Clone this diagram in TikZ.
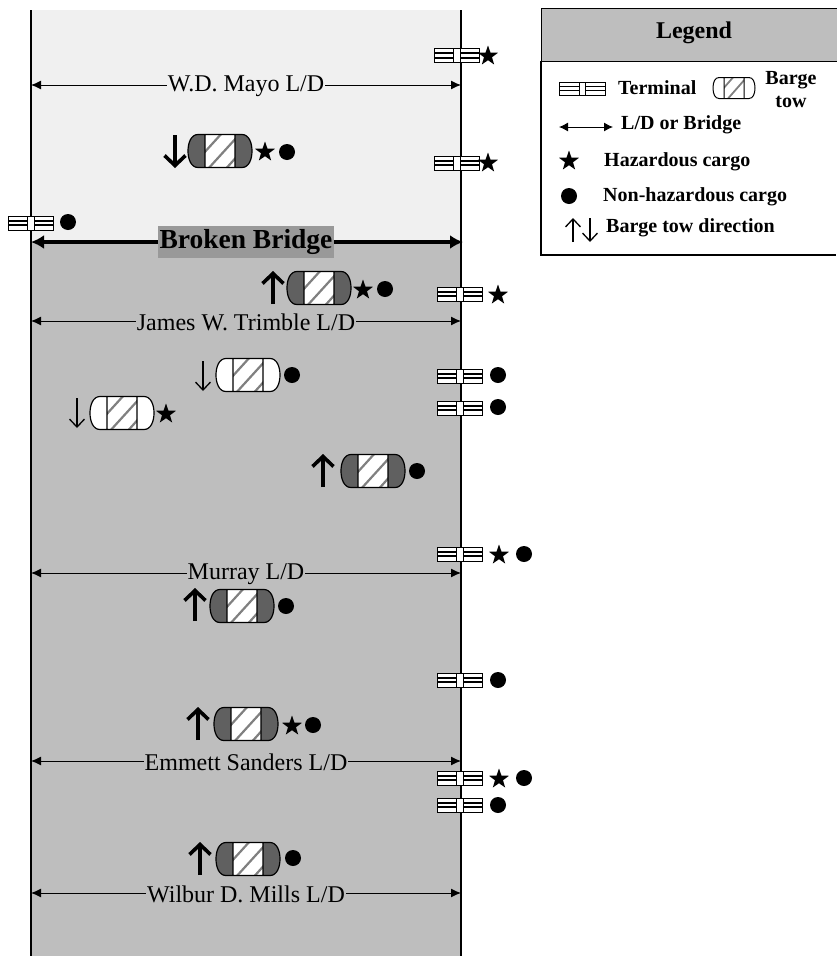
\documentclass[tikz,border=0pt]{standalone}
\usepackage{fontspec}
\setmainfont{Liberation Serif}
\usetikzlibrary{arrows.meta,shapes.geometric}
\definecolor{lightzone}{HTML}{F0F0F0}
\definecolor{darkzone}{HTML}{BEBEBE}
\definecolor{towend}{HTML}{606060}
\definecolor{bridgebg}{HTML}{999999}
\tikzset{
  x=1pt,y=-1pt,
  bank/.style={line width=1.1pt,black},
  span/.style={line width=1pt,{Latex[length=10pt,width=9pt]}-{Latex[length=10pt,width=9pt]}},
  bridgespan/.style={line width=3.4pt,{Latex[length=13pt,width=14pt]}-{Latex[length=13pt,width=14pt]}},
  spanlabel/.style={font=\fontsize{24}{24}\selectfont,inner sep=1pt},
  haz/.style={star,star points=5,star point ratio=2.5,fill=black,inner sep=0pt,minimum size=21pt,draw=none},
  nonhaz/.style={circle,fill=black,inner sep=0pt,minimum size=16pt,draw=none},
  boldup/.style={line width=3.6pt,-{Straight Barb[length=10pt,width=21pt,line width=3.6pt]}},
  thinarrow/.style={line width=1.3pt,-{Straight Barb[length=8pt,width=15pt,line width=1.3pt]}},
  legendtext/.style={font=\fontsize{20}{23}\selectfont\bfseries,inner sep=0pt},
  pics/terminal/.style={code={
    \draw[line width=.9pt,fill=white] (-22.5,-7) rectangle (22.5,7);
    \draw[line width=2pt] (-22.5,-2.4) -- (22.5,-2.4) (-22.5,2.4) -- (22.5,2.4);
    \draw[line width=.9pt,fill=white] (-3.5,-7) rectangle (3.5,7);
  }},
  pics/barge/.style={code={
    \fill[#1] (-15,-16.5) -- (-22,-16.5) .. controls (-29,-16.5) and (-32,-8) .. (-32,0)
       .. controls (-32,8) and (-29,16.5) .. (-22,16.5) -- (-15,16.5) -- cycle;
    \fill[#1] (15,-16.5) -- (22,-16.5) .. controls (29,-16.5) and (32,-8) .. (32,0)
       .. controls (32,8) and (29,16.5) .. (22,16.5) -- (15,16.5) -- cycle;
    \fill[white] (-15,-16.5) rectangle (15,16.5);
    \begin{scope}
      \clip (-15,-16.5) rectangle (15,16.5);
      \draw[line width=2.2pt,black!50] (-17,3) -- (3,-19) (-13,19) -- (18,-15) (3,21) -- (20,2);
    \end{scope}
    \draw[line width=1.2pt] (-15,-16.5) -- (-22,-16.5) .. controls (-29,-16.5) and (-32,-8) .. (-32,0)
       .. controls (-32,8) and (-29,16.5) .. (-22,16.5) -- (22,16.5) .. controls (29,16.5) and (32,8) .. (32,0)
       .. controls (32,-8) and (29,-16.5) .. (22,-16.5) -- cycle
       (-15,-16.5) -- (-15,16.5) (15,-16.5) -- (15,16.5);
  }},
  pics/minibarge/.style={code={
    \fill[white] (-10,-10.5) rectangle (10,10.5);
    \begin{scope}
      \clip (-10,-10.5) rectangle (10,10.5);
      \draw[line width=1.8pt,black!50] (-12,2) -- (2,-14) (-9,14) -- (12,-10);
    \end{scope}
    \draw[line width=1pt] (-10,-10.5) -- (-15,-10.5) .. controls (-19,-10.5) and (-21,-6) .. (-21,0)
       .. controls (-21,6) and (-19,10.5) .. (-15,10.5) -- (15,10.5) .. controls (19,10.5) and (21,6) .. (21,0)
       .. controls (21,-6) and (19,-10.5) .. (15,-10.5) -- cycle
       (-10,-10.5) -- (-10,10.5) (10,-10.5) -- (10,10.5);
  }}
}
\begin{document}
\begin{tikzpicture}
\useasboundingbox (0,0) rectangle (836,956);
% zones
\fill[lightzone] (31,10) rectangle (461,242);
\fill[darkzone] (31,242) rectangle (461,956);
\coordinate (LT) at (31,10); \coordinate (LB) at (31,956);
\coordinate (RT) at (461,10); \coordinate (RB) at (461,956);
\draw[bank] (LT) -- (LB);
\draw[bank] (RT) -- (RB);
% spans
\foreach \n/\y in {mayo/85,trimble/321,murray/573,emmett/761,mills/893}{
  \coordinate (\n L) at (31,\y); \coordinate (\n R) at (461,\y);
  \draw[span] (\n L) -- (\n R);
}
\coordinate (bridgeL) at (31,242); \coordinate (bridgeR) at (463,242);
\draw[bridgespan] (bridgeL) -- (bridgeR);
\node[spanlabel,fill=lightzone] (mayo) at (246,86) {W.D. Mayo L/D};
\node[spanlabel,fill=darkzone] (trimble) at (246,322) {James W. Trimble L/D};
\node[spanlabel,fill=darkzone] (murray) at (246,574) {Murray L/D};
\node[spanlabel,fill=darkzone] (emmett) at (246,762) {Emmett Sanders L/D};
\node[spanlabel,fill=darkzone] (mills) at (246,894) {Wilbur D. Mills L/D};
\node[fill=bridgebg,font=\fontsize{27.5}{27.5}\selectfont\bfseries,inner sep=0pt,minimum width=176pt,minimum height=32pt] (bridge) at (246,242) {Broken Bridge};
% terminals
\pic at (457,55.5) {terminal}; \node[haz] (s1) at (488,56) {};
\pic at (457,163) {terminal};  \node[haz] (s2) at (488,163) {};
\pic at (31,223) {terminal};   \node[nonhaz] (d1) at (68,222) {};
\pic at (460,294) {terminal};  \node[haz] (s3) at (498,295) {};
\pic at (460,376) {terminal};  \node[nonhaz] (d2) at (498,375) {};
\pic at (460,408) {terminal};  \node[nonhaz] (d3) at (498,407) {};
\pic at (460,554) {terminal};  \node[haz] (s4) at (499,555) {}; \node[nonhaz] (d4) at (524,554) {};
\pic at (460,680) {terminal};  \node[nonhaz] (d5) at (498,680) {};
\pic at (460,778) {terminal};  \node[haz] (s5) at (499,779) {}; \node[nonhaz] (d6) at (524,778) {};
\pic at (460,805) {terminal};  \node[nonhaz] (d7) at (498,805) {};
% barge tows
\pic at (220,151) {barge=towend};
\coordinate (a1s) at (175,135); \coordinate (a1e) at (175,168); \draw[boldup] (a1s) -- (a1e);
\node[haz] (s6) at (265,152) {}; \node[nonhaz] (d8) at (287,152) {};
\pic at (319,288) {barge=towend};
\coordinate (a2s) at (273,304); \coordinate (a2e) at (273,271); \draw[boldup] (a2s) -- (a2e);
\node[haz] (s7) at (363,290) {}; \node[nonhaz] (d9) at (385,289) {};
\pic at (248,375) {barge=white};
\coordinate (a3s) at (203,361); \coordinate (a3e) at (203,391); \draw[thinarrow] (a3s) -- (a3e);
\node[nonhaz] (d10) at (292,375) {};
\pic at (122,413) {barge=white};
\coordinate (a4s) at (77,398); \coordinate (a4e) at (77,428); \draw[thinarrow] (a4s) -- (a4e);
\node[haz] (s8) at (166,414) {};
\pic at (373,471) {barge=towend};
\coordinate (a5s) at (323,487); \coordinate (a5e) at (323,454); \draw[boldup] (a5s) -- (a5e);
\node[nonhaz] (d11) at (417,471) {};
\pic at (242,606) {barge=towend};
\coordinate (a6s) at (195,621); \coordinate (a6e) at (195,588); \draw[boldup] (a6s) -- (a6e);
\node[nonhaz] (d12) at (286,606) {};
\pic at (246,724) {barge=towend};
\coordinate (a7s) at (198,740); \coordinate (a7e) at (198,707); \draw[boldup] (a7s) -- (a7e);
\node[haz] (s9) at (292,726) {}; \node[nonhaz] (d13) at (313,725) {};
\pic at (248,859) {barge=towend};
\coordinate (a8s) at (200,875); \coordinate (a8e) at (200,842); \draw[boldup] (a8s) -- (a8e);
\node[nonhaz] (d14) at (293,858) {};
% legend
\node[draw,line width=1.2pt,fill=darkzone,anchor=north west,inner sep=0pt,minimum width=296pt,minimum height=53pt] (legendhead) at (541,8) {};
\node[font=\fontsize{24}{24}\selectfont\bfseries,inner sep=0pt] (legendtitle) at (694,33) {Legend};
\draw[line width=1.2pt] (541,61) -- (541,255) -- (836,255);
\draw[line width=.9pt,fill=white] (559,82) rectangle (605,95);
\draw[line width=1.6pt] (559,86.5) -- (605,86.5) (559,90.5) -- (605,90.5);
\draw[line width=.9pt,fill=white] (579,82) rectangle (585,95);
\node[legendtext,anchor=west] (lt) at (618,88) {Terminal};
\pic at (734,88) {minibarge};
\node[legendtext,align=center] (lb) at (791,90) {Barge\\tow};
\coordinate (lal) at (559,127); \coordinate (lar) at (613,127);
\draw[line width=1pt,{Latex[length=9pt,width=9pt]}-{Latex[length=9pt,width=9pt]}] (lal) -- (lar);
\node[legendtext,anchor=west] (ll) at (621,125) {L/D or Bridge};
\node[haz] (ls) at (569,161) {};
\node[legendtext,anchor=west] (lh) at (604,162) {Hazardous cargo};
\node[nonhaz] (ld) at (569,196) {};
\node[legendtext,anchor=west] (ln) at (603,197) {Non-hazardous cargo};
\coordinate (lus) at (573,242); \coordinate (lue) at (573,218);
\coordinate (lds) at (590,218); \coordinate (lde) at (590,242);
\draw[thinarrow] (lus) -- (lue);
\draw[thinarrow] (lds) -- (lde);
\node[legendtext,anchor=west] (lw) at (606,228) {Barge tow direction};
\end{tikzpicture}
\end{document}
